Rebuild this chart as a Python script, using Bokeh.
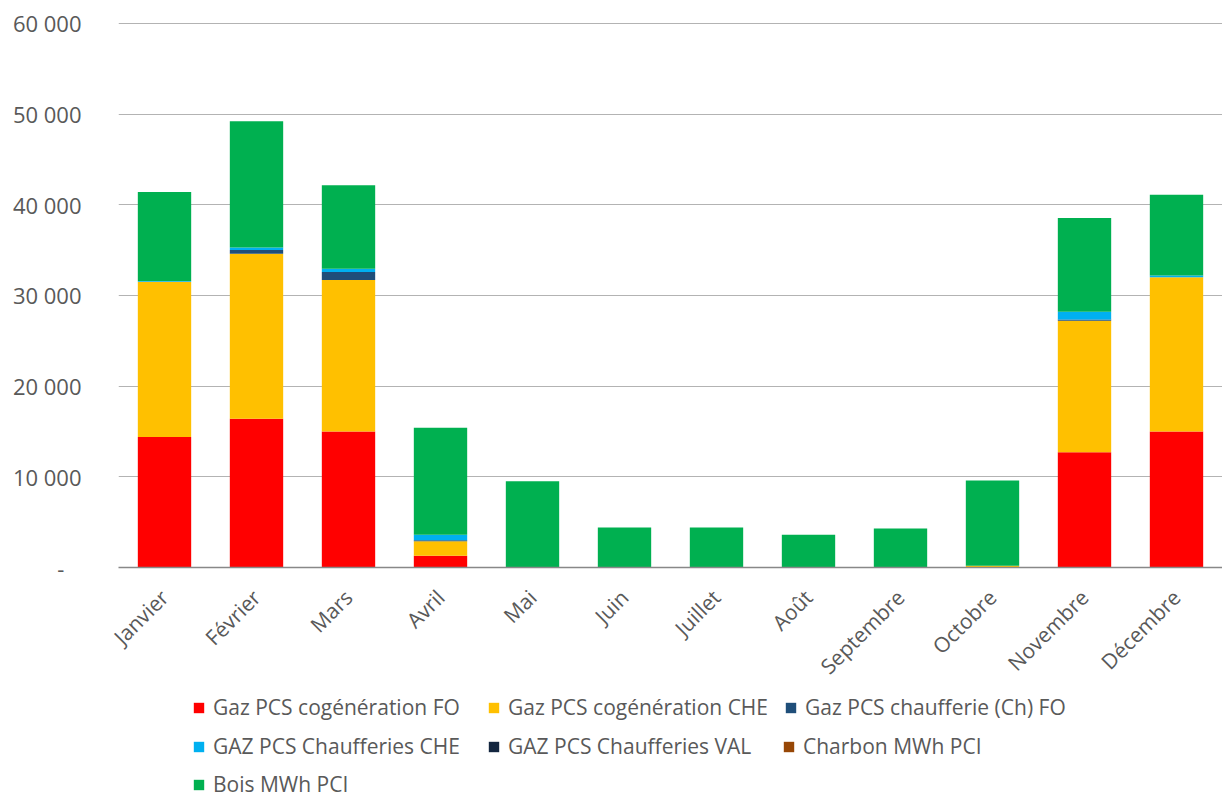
import math
from bokeh.plotting import figure
from bokeh.layouts import column
from bokeh.models import Legend, LegendItem, FixedTicker, Range1d, FactorRange
from bokeh.embed import file_html
from bokeh.resources import INLINE

months = ["Janvier", "Février", "Mars", "Avril", "Mai", "Juin", "Juillet",
          "Août", "Septembre", "Octobre", "Novembre", "Décembre"]

gaz_cogen_fo = [14400, 16400, 15000, 1300, 0, 0, 0, 0, 0, 0, 12700, 15000]
gaz_cogen_che = [17100, 18200, 16700, 1600, 0, 0, 0, 0, 0, 200, 14500, 17000]
gaz_chauff_fo = [0, 400, 900, 100, 0, 0, 0, 0, 0, 0, 150, 0]
gaz_chauff_che = [100, 300, 350, 600, 0, 0, 0, 0, 0, 0, 850, 200]
gaz_chauff_val = [0, 0, 0, 0, 0, 0, 0, 0, 0, 0, 0, 0]
charbon = [0, 0, 0, 0, 0, 0, 0, 0, 0, 0, 0, 0]
bois = [9800, 13900, 9200, 11800, 9500, 4400, 4400, 3600, 4300, 9400, 10350, 8900]

series_names = ["Gaz PCS cogénération FO", "Gaz PCS cogénération CHE",
                "Gaz PCS chaufferie (Ch) FO", "GAZ PCS Chaufferies CHE",
                "GAZ PCS Chaufferies VAL", "Charbon MWh PCI", "Bois MWh PCI"]
series_keys = ["fo", "che", "chfo", "cche", "val", "charbon", "bois"]
colors = ["#FF0000", "#FFC000", "#1F4E79", "#00B0F0", "#13263F", "#974706", "#00B050"]

y_ticks = [0, 10000, 20000, 30000, 40000, 50000, 60000]
y_labels = ["-", "10 000", "20 000", "30 000", "40 000", "50 000", "60 000"]

data = dict(month=months, fo=gaz_cogen_fo, che=gaz_cogen_che, chfo=gaz_chauff_fo,
            cche=gaz_chauff_che, val=gaz_chauff_val, charbon=charbon, bois=bois)

FONT = "Open Sans"
TXT = "#595959"

p = figure(x_range=months, y_range=(0, 60100), width=1222, height=692,
           output_backend="svg", toolbar_location=None,
           min_border_left=118, min_border_right=0, min_border_top=22,
           min_border_bottom=125)

renderers = p.vbar_stack(series_keys, x="month", width=0.58, source=data,
                         color=colors, line_color=None)

p.outline_line_color = None
p.xgrid.grid_line_color = None
p.ygrid.grid_line_color = "#B3B3B3"
p.ygrid.grid_line_width = 1

p.yaxis.ticker = FixedTicker(ticks=y_ticks)
p.yaxis.major_label_overrides = {t: (l if l != "-" else "-\u00a0\u00a0\u00a0") for t, l in zip(y_ticks, y_labels)}
p.yaxis.axis_line_color = None
p.yaxis.major_tick_line_color = None
p.yaxis.minor_tick_line_color = None
p.yaxis.major_label_standoff = 31
p.yaxis.major_label_text_font = FONT
p.yaxis.major_label_text_font_size = "22px"
p.yaxis.major_label_text_color = TXT

p.xaxis.axis_line_color = "#888888"
p.xaxis.axis_line_width = 1.5
p.xaxis.major_tick_line_color = None
p.xaxis.minor_tick_line_color = None
p.xaxis.major_label_orientation = math.pi / 4
p.xaxis.major_label_standoff = 20
p.xaxis.major_label_text_font = FONT
p.xaxis.major_label_text_font_size = "21px"
p.xaxis.major_label_text_color = TXT

# Legend figure below the chart (swatches come from a copy of the stack kept below its view)
lp = figure(width=1222, height=106, output_backend="svg", toolbar_location=None,
            x_range=FactorRange(*months), y_range=Range1d(60000, 120000),
            min_border=0, outline_line_color=None)
lp.axis.visible = False
lp.grid.visible = False
swatches = lp.vbar_stack(series_keys, x="month", width=0.58, source=data,
                         color=colors, line_color=None)

rows = [[0, 1, 2], [3, 4, 5], [6]]
row_y = [77, 38, 0]
for row, yy in zip(rows, row_y):
    items = [LegendItem(label=series_names[i], renderers=[swatches[i]]) for i in row]
    lg = Legend(items=items, orientation="horizontal",
                label_text_font=FONT, label_text_font_size="21px",
                label_text_color=TXT, glyph_width=13, glyph_height=13,
                label_height=22, label_width=258, label_standoff=8, spacing=16,
                border_line_color=None, background_fill_alpha=0,
                padding=0, margin=0, location=(74, yy))
    lp.add_layout(lg, "center")

open("out.html", "w").write(file_html(column(p, lp, spacing=0), INLINE))
